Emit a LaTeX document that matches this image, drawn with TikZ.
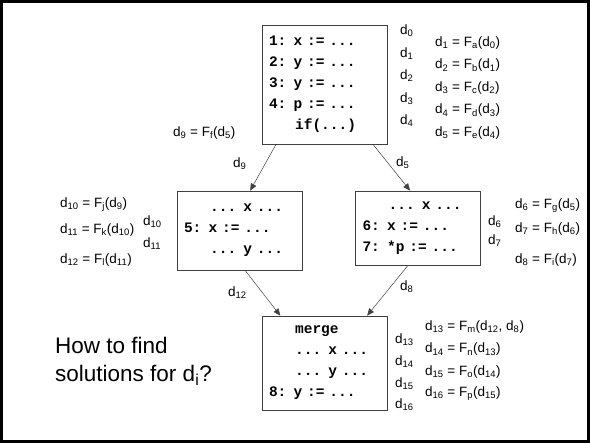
\documentclass[tikz,border=0pt]{standalone}
\usepackage{fontspec}
\setmainfont{Liberation Sans}
\setmonofont{Liberation Mono}
\usetikzlibrary{arrows.meta}
\definecolor{boxgray}{HTML}{404040}
\newcommand{\dv}[1]{d\textsubscript{#1}}
\newcommand{\Fv}[1]{F\textsubscript{#1}}
\newcommand{\ind}{\hphantom{000}}
\newcommand{\codefont}{\ttfamily\bfseries\fontsize{14.5}{21}\selectfont}

\begin{document}
\begin{tikzpicture}[x=1pt,y=-1pt,font=\fontsize{13.5}{15}\selectfont,
    codebox/.style={draw=boxgray,line width=0.8pt,inner xsep=7pt,text width=111pt,
      align=left,font=\codefont},
    flow/.style={-{Triangle[length=7pt,width=6pt]},boxgray,line width=0.5pt},
    eqn/.style={anchor=west,inner sep=0pt}]
  \useasboundingbox (0,0) rectangle (590,443);
  \draw[line width=2.5pt] (1.5,1.5) rectangle (588.5,441.5);

  % basic blocks
  \node[codebox,minimum height=119pt] (entry) at (324.5,84.5)
    {1: x := ...\\2: y := ...\\3: y := ...\\4: p := ...\\\ind if(...)};
  \node[codebox,minimum height=79pt] (thenb) at (239.5,230.5)
    {\ind ... x ...\\5: x := ...\\\ind ... y ...};
  \node[codebox,minimum height=74pt] (elseb) at (418,228)
    {\ind ... x ...\\6: x := ...\\7: *p := ...};
  \node[codebox,minimum height=94pt] (merge) at (324.5,363)
    {\ind merge\\\ind ... x ...\\\ind ... y ...\\8: y := ...};

  % edges
  \draw[flow] (entry.231) -- (thenb.75);
  \draw[flow] (entry.-51) -- (elseb.102);
  \draw[flow] (thenb.278) -- (merge.133);
  \draw[flow] (elseb.255) -- (merge.48);

  % entry block facts
  \foreach \i/\y in {0/31,1/53.5,2/76,3/98.5,4/121}
    \node[eqn] (p\i) at (400,\y) {\dv{\i}};
  \node[eqn] (f1) at (435,43) {\dv{1} = \Fv{a}(\dv{0})};
  \node[eqn] (f2) at (435,65.5) {\dv{2} = \Fv{b}(\dv{1})};
  \node[eqn] (f3) at (435,88) {\dv{3} = \Fv{c}(\dv{2})};
  \node[eqn] (f4) at (435,110.5) {\dv{4} = \Fv{d}(\dv{3})};
  \node[eqn] (f5) at (435,133) {\dv{5} = \Fv{e}(\dv{4})};
  \node[eqn] (f9) at (173,133) {\dv{9} = \Fv{f}(\dv{5})};
  \node[eqn] (p9) at (233,164) {\dv{9}};
  \node[eqn] (p5) at (396,163) {\dv{5}};

  % then block facts
  \node[eqn] (f10) at (60,205) {\dv{10} = \Fv{j}(\dv{9})};
  \node[eqn] (f11) at (60,230) {\dv{11} = \Fv{k}(\dv{10})};
  \node[eqn] (f12) at (60,260) {\dv{12} = \Fv{l}(\dv{11})};
  \node[eqn] (p10) at (143,222) {\dv{10}};
  \node[eqn] (p11) at (143,244) {\dv{11}};
  \node[eqn] (p12) at (228,293) {\dv{12}};

  % else block facts
  \node[eqn] (p6) at (488,222) {\dv{6}};
  \node[eqn] (p7) at (488,241) {\dv{7}};
  \node[eqn] (f6) at (515,206) {\dv{6} = \Fv{g}(\dv{5})};
  \node[eqn] (f7) at (515,229) {\dv{7} = \Fv{h}(\dv{6})};
  \node[eqn] (f8) at (515,260) {\dv{8} = \Fv{i}(\dv{7})};
  \node[eqn] (p8) at (400,287) {\dv{8}};

  % merge block facts
  \foreach \i/\y in {13/340,14/362,15/383.5,16/405}
    \node[eqn] (p\i) at (395,\y) {\dv{\i}};
  \node[eqn] (f13) at (425,327) {\dv{13} = \Fv{m}(\dv{12}, \dv{8})};
  \node[eqn] (f14) at (425,349.5) {\dv{14} = \Fv{n}(\dv{13})};
  \node[eqn] (f15) at (425,372) {\dv{15} = \Fv{o}(\dv{14})};
  \node[eqn] (f16) at (425,394) {\dv{16} = \Fv{p}(\dv{15})};

  \node[anchor=west,inner sep=0pt,align=left,font=\fontsize{22.5}{28}\selectfont] (ask) at (55,361)
    {How to find\\solutions for \dv{i}?};
\end{tikzpicture}
\end{document}
